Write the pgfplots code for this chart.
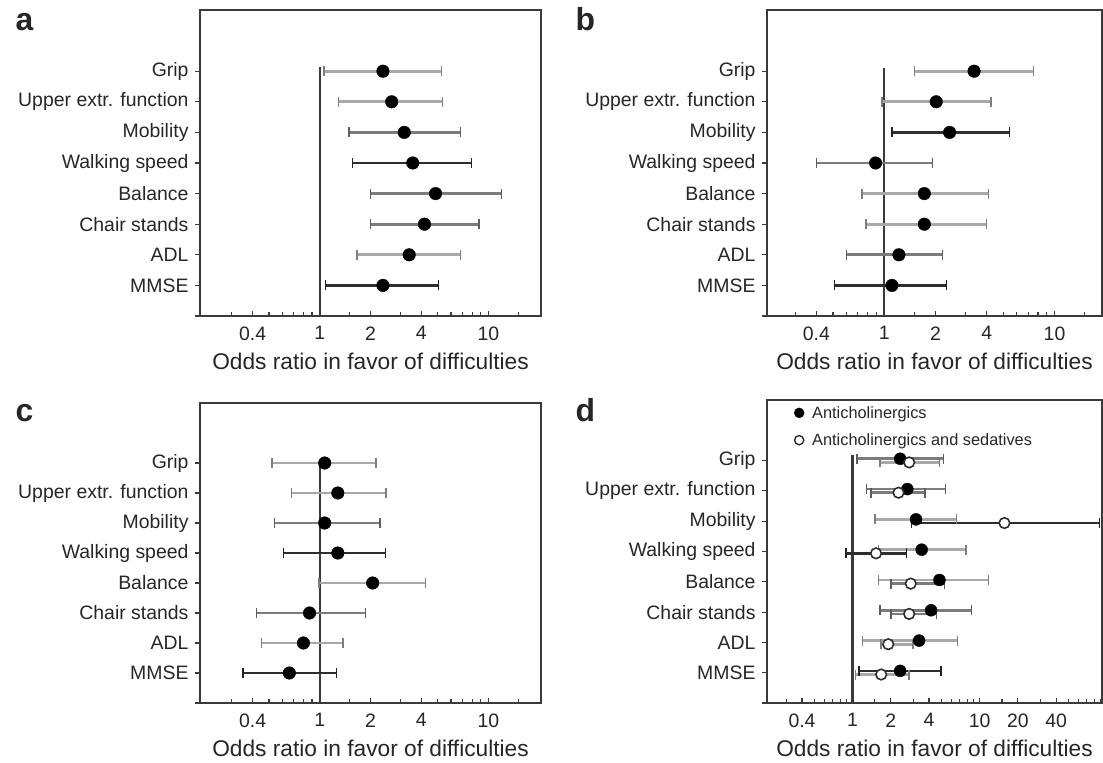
\documentclass[border=0pt]{standalone}
\usepackage{fontspec}
\setmainfont{Liberation Sans}
\usepackage{pgfplots}
\pgfplotsset{compat=1.18}
\definecolor{lg}{HTML}{A8A8A8}
\definecolor{mg}{HTML}{7C7C7C}
\definecolor{dg}{HTML}{2E2E2E}
\definecolor{ax}{HTML}{3A3A3A}
\definecolor{tx}{HTML}{262626}

\newcommand{\ci}[4]{\addplot[color=#4, line width=2.7bp, mark=|, mark size=5bp, mark options={line width=1.4bp, draw=#4!75!black}, forget plot] coordinates {(#1,#3) (#2,#3)};}

\pgfplotsset{
    every axis/.append style={
    scale only axis, ymin=0, ymax=10,
    ytick=\empty,
    extra y ticks={0,1,2,3,4,5,6,7,8},
    extra y tick labels={,MMSE,ADL,Chair stands,Balance,Walking speed,Mobility,Upper extr. function,Grip},
    extra y tick style={tick align=outside, major tick length=5bp},
    tick align=inside, major tick length=5bp, minor tick length=4bp,
    tick pos=left,
    tick style={color=ax, line width=1.1bp},
    axis line style={color=ax, line width=1.6bp},
    tick label style={font=\fontsize{19.5}{22}\selectfont, text=tx},
    xticklabel style={yshift=-7bp},
    yticklabel style={xshift=-3bp},
    xlabel={Odds ratio in favor of difficulties},
    xlabel style={font=\fontsize{22.8}{25}\selectfont, text=tx, at={(axis description cs:0.5,0)}, anchor=center, yshift=-45bp},
  }
}

\begin{document}
\begin{tikzpicture}
\path[use as bounding box] (0bp,0bp) rectangle (1103bp,763bp);

\node[font=\bfseries\fontsize{32}{32}\selectfont, text=tx, anchor=base west] at (12bp,732bp) {a};
\node[font=\bfseries\fontsize{32}{32}\selectfont, text=tx, anchor=base west] at (572bp,732bp) {b};
\node[font=\bfseries\fontsize{32}{32}\selectfont, text=tx, anchor=base west] at (12bp,341bp) {c};
\node[font=\bfseries\fontsize{32}{32}\selectfont, text=tx, anchor=base west] at (572bp,341bp) {d};

% ---------- a ----------
\begin{axis}[xmode=log, at={(200bp,447bp)}, anchor=south west, width=341bp, height=306bp, xmin=0.195, xmax=20.5,
  xtick={0.4,1,2,4,10}, xticklabels={0.4,1,2,4,10},
  minor xtick={0.3,0.5,0.6,0.7,0.8,0.9,1.5,3,5,6,7,8,9,15}]
\addplot[color=ax, line width=1.8bp, forget plot] coordinates {(1,0) (1,8.15)};
\ci{1.06}{5.25}{8}{lg}
\ci{1.29}{5.33}{7}{lg}
\ci{1.49}{6.85}{6}{mg}
\ci{1.57}{7.96}{5}{dg}
\ci{2.00}{11.97}{4}{mg}
\ci{2.00}{8.77}{3}{mg}
\ci{1.66}{6.85}{2}{lg}
\ci{1.08}{5.07}{1}{dg}
\addplot[only marks, mark=*, mark size=6.3bp, color=black, forget plot] coordinates {
(2.37,8) (2.67,7) (3.17,6) (3.56,5) (4.86,4) (4.18,3) (3.39,2) (2.37,1)};
\end{axis}

% ---------- b ----------
\begin{axis}[xmode=log, at={(767bp,447bp)}, anchor=south west, width=335bp, height=306bp, xmin=0.205, xmax=19,
  xtick={0.4,1,2,4,10}, xticklabels={0.4,1,2,4,10},
  minor xtick={0.3,0.5,0.6,0.7,0.8,0.9,1.5,3,5,6,7,8,9,15}]
\addplot[color=ax, line width=1.8bp, forget plot] coordinates {(1,0) (1,8.1)};
\ci{1.50}{7.50}{8}{lg}
\ci{0.97}{4.23}{7}{lg}
\ci{1.11}{5.42}{6}{dg}
\ci{0.40}{1.92}{5}{mg}
\ci{0.74}{4.09}{4}{lg}
\ci{0.78}{3.98}{3}{lg}
\ci{0.60}{2.20}{2}{mg}
\ci{0.51}{2.33}{1}{dg}
\addplot[only marks, mark=*, mark size=6.3bp, color=black, forget plot] coordinates {
(3.37,8) (2.02,7) (2.42,6) (0.89,5) (1.72,4) (1.72,3) (1.22,2) (1.11,1)};
\end{axis}

% ---------- c ----------
\begin{axis}[xmode=log, at={(200bp,60bp)}, anchor=south west, width=341bp, height=300bp, xmin=0.195, xmax=20.5,
  xtick={0.4,1,2,4,10}, xticklabels={0.4,1,2,4,10},
  minor xtick={0.3,0.5,0.6,0.7,0.8,0.9,1.5,3,5,6,7,8,9,15}]
\addplot[color=ax, line width=1.8bp, forget plot] coordinates {(1,0) (1,8.05)};
\ci{0.52}{2.16}{8}{lg}
\ci{0.68}{2.47}{7}{lg}
\ci{0.54}{2.27}{6}{mg}
\ci{0.61}{2.46}{5}{dg}
\ci{0.99}{4.24}{4}{lg}
\ci{0.42}{1.87}{3}{mg}
\ci{0.45}{1.37}{2}{lg}
\ci{0.35}{1.26}{1}{dg}
\addplot[only marks, mark=*, mark size=6.3bp, color=black, forget plot] coordinates {
(1.07,8) (1.28,7) (1.07,6) (1.28,5) (2.06,4) (0.87,3) (0.80,2) (0.66,1)};
\end{axis}

% ---------- d ----------
\begin{axis}[xmode=log, at={(767bp,60bp)}, anchor=south west, width=335bp, height=303bp, xmin=0.212, xmax=92,
  xtick={0.4,1,2,4,10,20,40}, xticklabels={0.4,1,2,4,10,20,40},
  minor xtick={0.3,0.5,0.6,0.7,0.8,0.9,1.5,3,5,6,7,8,9,15,30,50,60,70,80,90},
  legend style={at={(axis description cs:0,1)}, anchor=north west, draw=none, fill=none,
    font=\fontsize{16.4}{18}\selectfont, text=tx, xshift=24bp, yshift=-2bp, row sep=10bp, column sep=6bp},
  legend cell align=left]
\addlegendimage{only marks, mark=*, mark size=5bp, color=black}
\addlegendentry{Anticholinergics}
\addlegendimage{only marks, mark=*, mark size=4.6bp, mark options={fill=white, draw=dg, line width=1.4bp}}
\addlegendentry{Anticholinergics and sedatives}
\addplot[color=ax, line width=2.2bp, forget plot] coordinates {(1,0) (1,8.2)};
\ci{1.08}{5.19}{8.06}{mg}
\ci{1.29}{5.38}{7.06}{mg}
\ci{1.50}{6.61}{6.06}{lg}
\ci{1.60}{7.83}{5.06}{lg}
\ci{1.60}{11.7}{4.06}{lg}
\ci{1.65}{8.68}{3.06}{mg}
\ci{1.20}{6.69}{2.06}{lg}
\ci{1.12}{4.95}{1.06}{dg}
\ci{1.65}{4.83}{7.94}{lg}
\ci{1.40}{3.72}{6.94}{mg}
\ci{2.92}{87.8}{5.94}{dg}
\ci{0.89}{2.67}{4.94}{dg}
\ci{2.00}{5.30}{3.94}{mg}
\ci{2.00}{4.60}{2.94}{mg}
\ci{1.67}{2.98}{1.94}{lg}
\ci{1.05}{2.79}{0.94}{lg}
\addplot[only marks, mark=*, mark size=6bp, color=black, forget plot] coordinates {
(2.37,8.06) (2.70,7.06) (3.16,6.06) (3.50,5.06) (4.83,4.06) (4.15,3.06) (3.34,2.06) (2.37,1.06)};
\addplot[only marks, mark=*, mark size=5.3bp, mark options={fill=white, draw=dg, line width=1.6bp}, forget plot] coordinates {
(2.79,7.94) (2.30,6.94) (15.7,5.94) (1.53,4.94) (2.87,3.94) (2.79,2.94) (1.91,1.94) (1.68,0.94)};
\end{axis}
\end{tikzpicture}
\end{document}
